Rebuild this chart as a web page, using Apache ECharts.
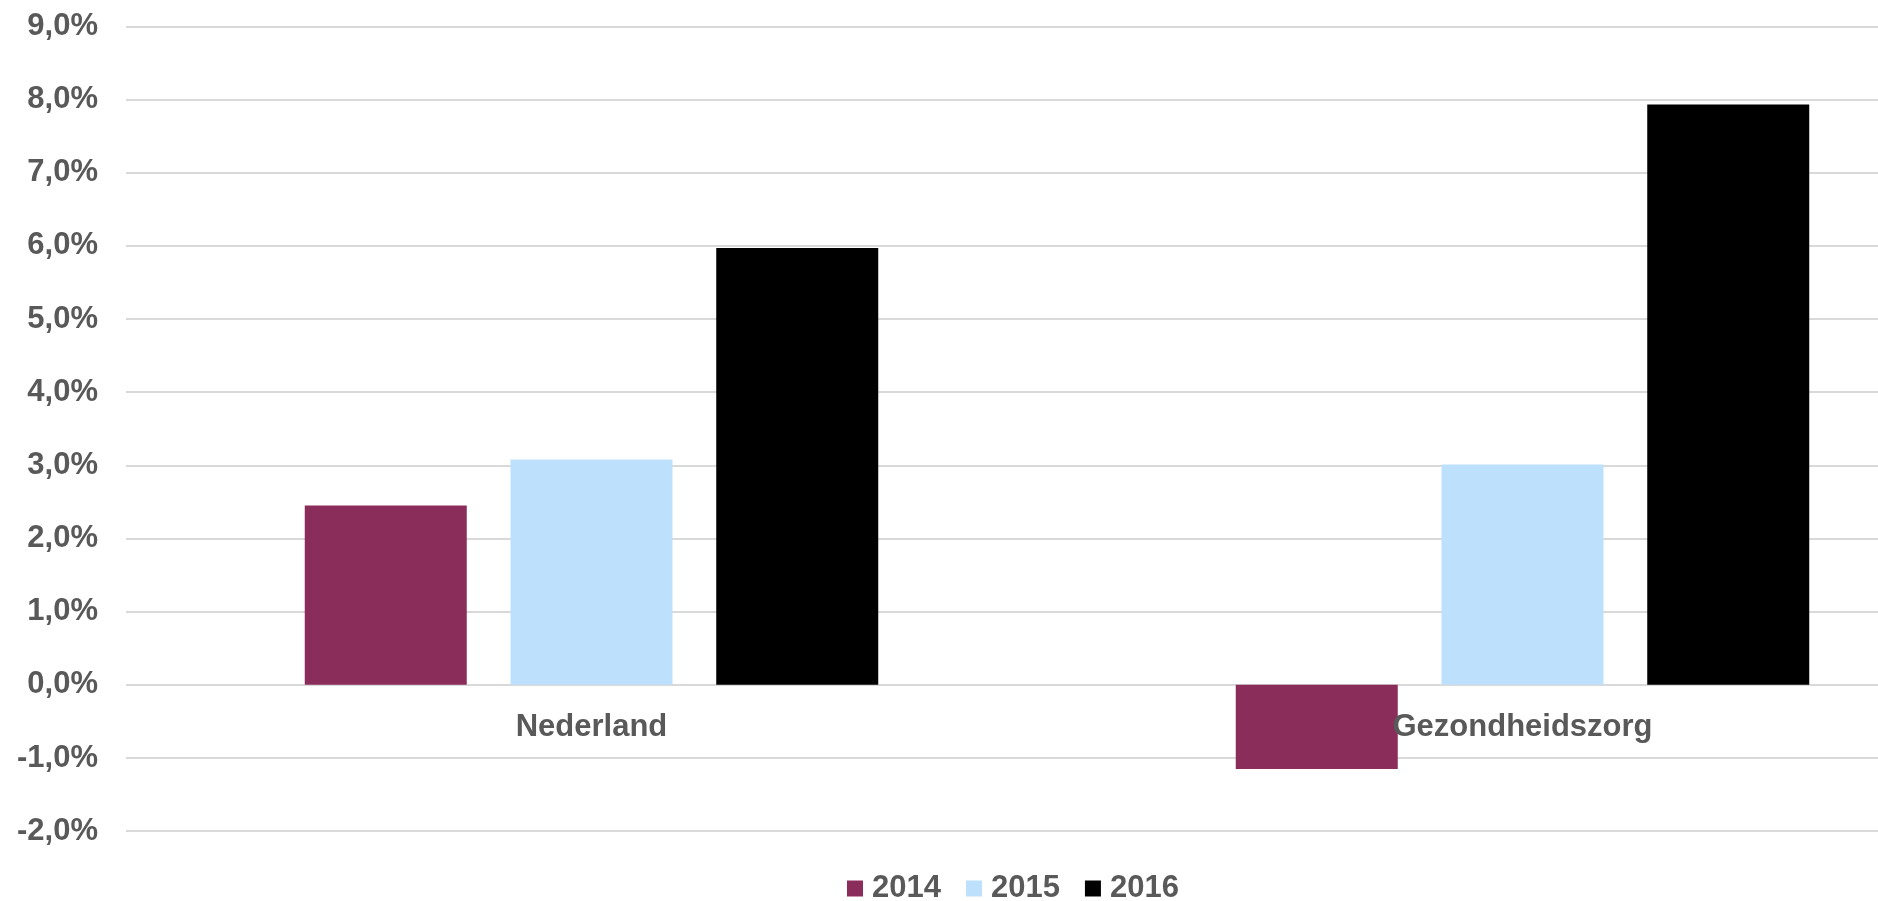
<!DOCTYPE html>
<html>
<head>
<meta charset="utf-8">
<title>Groei 2014-2016</title>
<script src="https://cdn.jsdelivr.net/npm/echarts@6/dist/echarts.min.js"></script>
<style>
  html, body { margin: 0; padding: 0; background: #fff; }
  #chart { width: 1878px; height: 901px; }
</style>
</head>
<body>
<div id="chart"></div>
<script>
// data (percent)
const categories = ['Nederland', 'Gezondheidszorg']
const years = ['2014', '2015', '2016']
const values2014 = [2.45, -1.15]
const values2015 = [3.08, 3.01]
const values2016 = [5.97, 7.93]
const colors = ['#8b2d5b', '#bde1fd', '#000000']

const font = '"Liberation Sans", Arial, sans-serif'
const grey = '#595959'

const chart = echarts.init(document.getElementById('chart'))

const seriesData = [values2014, values2015, values2016]

chart.setOption({
  backgroundColor: '#fff',
  animation: false,
  grid: {
    left: 126,
    width: 1862,   // plot area runs past the right edge, as in the cropped original
    top: 26.3,
    bottom: 69.8,
    containLabel: false,
    outerBoundsMode: 'none'
  },
  legend: {
    data: years,
    left: 847,
    top: 873,
    padding: 0,
    itemWidth: 16,
    itemHeight: 16,
    itemGap: 25,
    icon: 'rect',
    textStyle: {
      fontFamily: font,
      fontWeight: 'bold',
      fontSize: 31,
      lineHeight: 30,
      color: grey,
      padding: [0, 0, 0, 4]
    }
  },
  xAxis: {
    type: 'category',
    data: categories,
    z: 10,
    // category labels sit under the 0% line (2 units above the bottom of the plot)
    offset: -146,
    axisLine: { show: false, onZero: false },
    axisTick: { show: false },
    splitLine: { show: false },
    axisLabel: {
      margin: 27,
      fontFamily: font,
      fontWeight: 'bold',
      fontSize: 31,
      lineHeight: 31,
      color: grey
    }
  },
  yAxis: {
    type: 'value',
    min: -2,
    max: 9,
    interval: 1,
    axisLine: { show: false },
    axisTick: { show: false },
    splitLine: {
      lineStyle: { color: '#d9d9d9', width: 2 }
    },
    axisLabel: {
      margin: 28,
      fontFamily: font,
      fontWeight: 'bold',
      fontSize: 31,
      color: grey,
      formatter: v => v.toFixed(1).replace('.', ',') + '%'
    }
  },
  series: years.map((y, i) => ({
    name: y,
    type: 'bar',
    data: seriesData[i],
    barWidth: 162,
    barGap: '27%',
    itemStyle: { color: colors[i] }
  }))
})
</script>
</body>
</html>
